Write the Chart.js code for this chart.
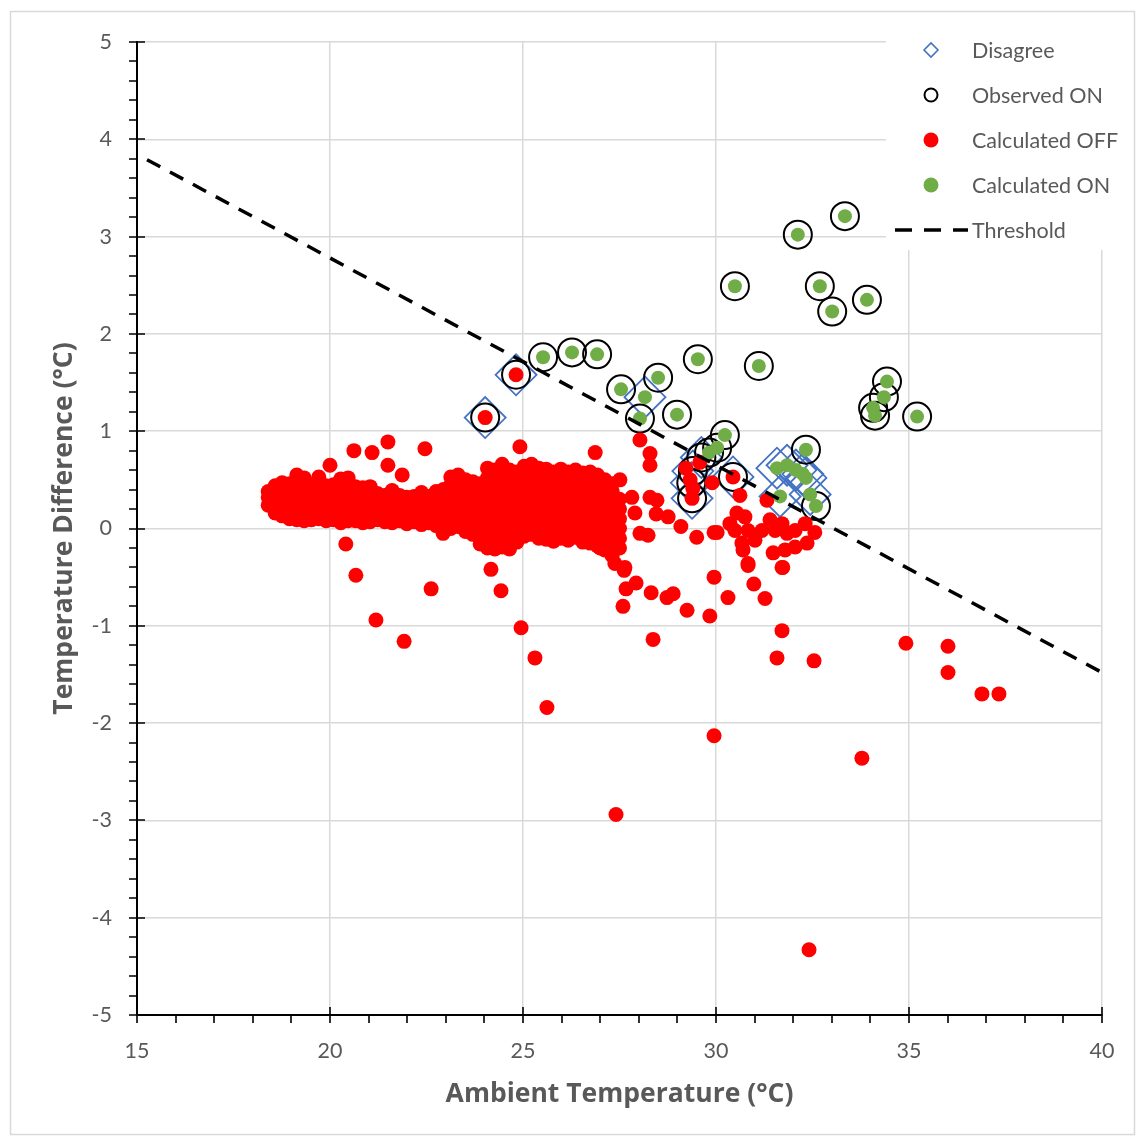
<!DOCTYPE html>
<html>
<head>
<meta charset="utf-8">
<script src="https://cdn.jsdelivr.net/npm/chart.js@4.4.1/dist/chart.umd.min.js"></script>
<style>
  html, body { margin: 0; padding: 0; background: #ffffff; }
  canvas { display: block; }
</style>
</head>
<body>
<canvas id="chart" width="1141" height="1137"></canvas>
<script>
// Axis ranges and tick labels
const xRange = [15, 40];
const yRange = [-5, 5];
const xTickLabels = ['15', '20', '25', '30', '35', '40'];
const yTickLabels = ['-5', '-4', '-3', '-2', '-1', '0', '1', '2', '3', '4', '5'];

const seriesNames = ['Disagree', 'Observed ON', 'Calculated OFF', 'Calculated ON', 'Threshold'];

// Calculated OFF: dense band of readings, one column per ambient temperature
const calcOffColumns = [
  [18.40, [0.24, 0.32, 0.38]],
  [18.58, [0.16, 0.26, 0.36, 0.44]],
  [18.76, [0.13, 0.22, 0.31, 0.40, 0.47]],
  [18.95, [0.10, 0.19, 0.28, 0.37, 0.46]],
  [19.14, [0.09, 0.18, 0.27, 0.36, 0.45, 0.55]],
  [19.33, [0.08, 0.17, 0.26, 0.35, 0.44, 0.52]],
  [19.52, [0.09, 0.18, 0.27, 0.36, 0.45]],
  [19.71, [0.10, 0.19, 0.28, 0.37, 0.46, 0.53]],
  [19.90, [0.08, 0.17, 0.26, 0.35, 0.44]],
  [20.09, [0.09, 0.18, 0.27, 0.36, 0.45]],
  [20.28, [0.06, 0.15, 0.24, 0.33, 0.42, 0.51]],
  [20.47, [0.08, 0.17, 0.26, 0.35, 0.44, 0.52]],
  [20.66, [0.08, 0.16, 0.25, 0.34, 0.43]],
  [20.85, [0.06, 0.15, 0.24, 0.33, 0.42]],
  [21.04, [0.07, 0.16, 0.25, 0.34, 0.43]],
  [21.23, [0.09, 0.18, 0.27, 0.36]],
  [21.42, [0.07, 0.16, 0.25, 0.34]],
  [21.61, [0.06, 0.15, 0.24, 0.33, 0.39]],
  [21.80, [0.08, 0.17, 0.26, 0.34]],
  [21.99, [0.05, 0.14, 0.23, 0.32]],
  [22.18, [0.07, 0.16, 0.25, 0.33]],
  [22.37, [0.04, 0.13, 0.22, 0.31, 0.37]],
  [22.56, [0.06, 0.15, 0.24, 0.33]],
  [22.75, [0.03, 0.12, 0.21, 0.30, 0.38]],
  [22.94, [0.05, 0.14, 0.23, 0.32, 0.40]],
  [23.13, [0.00, 0.09, 0.18, 0.27, 0.36, 0.45, 0.53]],
  [23.32, [0.02, 0.11, 0.20, 0.29, 0.38, 0.47, 0.55]],
  [23.51, [-0.03, 0.06, 0.15, 0.24, 0.33, 0.42, 0.50]],
  [23.70, [-0.06, 0.03, 0.12, 0.21, 0.30, 0.39, 0.48]],
  [23.89, [-0.16, -0.07, 0.02, 0.11, 0.20, 0.29, 0.38, 0.46]],
  [24.08, [-0.20, -0.11, -0.02, 0.07, 0.16, 0.25, 0.34, 0.43, 0.52, 0.62]],
  [24.27, [-0.21, -0.12, -0.03, 0.06, 0.15, 0.24, 0.33, 0.42, 0.51, 0.60]],
  [24.46, [-0.19, -0.10, -0.01, 0.08, 0.17, 0.26, 0.35, 0.44, 0.53, 0.66]],
  [24.65, [-0.21, -0.12, -0.03, 0.06, 0.15, 0.24, 0.33, 0.42, 0.51, 0.60]],
  [24.84, [-0.14, -0.05, 0.04, 0.13, 0.22, 0.31, 0.40, 0.49, 0.58]],
  [25.03, [-0.08, 0.01, 0.10, 0.19, 0.28, 0.37, 0.46, 0.55, 0.64]],
  [25.22, [-0.06, 0.03, 0.12, 0.21, 0.30, 0.39, 0.48, 0.57, 0.66]],
  [25.41, [-0.10, -0.01, 0.08, 0.17, 0.26, 0.35, 0.44, 0.53, 0.62]],
  [25.60, [-0.11, -0.02, 0.07, 0.16, 0.25, 0.34, 0.43, 0.52, 0.61]],
  [25.79, [-0.13, -0.04, 0.05, 0.14, 0.23, 0.32, 0.41, 0.50, 0.58]],
  [25.98, [-0.10, -0.01, 0.08, 0.17, 0.26, 0.35, 0.44, 0.53, 0.61]],
  [26.17, [-0.12, -0.03, 0.06, 0.15, 0.24, 0.33, 0.42, 0.51, 0.58]],
  [26.36, [-0.09, 0.00, 0.09, 0.18, 0.27, 0.36, 0.45, 0.54, 0.60]],
  [26.55, [-0.14, -0.05, 0.04, 0.13, 0.22, 0.31, 0.40, 0.49, 0.57]],
  [26.74, [-0.15, -0.06, 0.03, 0.12, 0.21, 0.30, 0.39, 0.48, 0.58]],
  [26.93, [-0.18, -0.09, 0.00, 0.09, 0.18, 0.27, 0.36, 0.45, 0.55]],
  [27.12, [-0.22, -0.13, -0.04, 0.05, 0.14, 0.23, 0.32, 0.41, 0.50]],
  [27.31, [-0.28, -0.17, -0.08, 0.01, 0.10, 0.19, 0.28, 0.38, 0.46]],
  [27.50, [-0.20, -0.10, 0.00, 0.10, 0.20, 0.30]]
];

// Calculated OFF: scattered readings outside the main band
const calcOffScatter = [
  [20.41, -0.16], [20.67, -0.48], [21.19, -0.94], [21.92, -1.16], [22.62, -0.62],
  [22.46, 0.82], [21.50, 0.89], [20.62, 0.80], [21.09, 0.78], [21.50, 0.65],
  [21.87, 0.55], [20.00, 0.65], [22.93, -0.05],
  [24.17, -0.42], [24.43, -0.64], [24.95, -1.02], [25.31, -1.33], [25.62, -1.84],
  [27.41, -2.94], [27.59, -0.80], [27.67, -0.62], [27.93, -0.56], [27.62, -0.43],
  [28.37, -1.14], [28.32, -0.66], [28.73, -0.71], [28.89, -0.67], [29.25, -0.84],
  [29.84, -0.90], [29.95, -2.13], [29.95, -0.50], [30.31, -0.71], [30.98, -0.57],
  [31.27, -0.72], [30.83, -0.38], [31.58, -1.33], [31.71, -1.05], [31.73, -0.40],
  [32.54, -1.36], [32.41, -4.33], [33.78, -2.36], [34.92, -1.18], [36.01, -1.21],
  [36.01, -1.48], [36.89, -1.70], [37.33, -1.70],
  [24.02, 1.14], [24.82, 1.58], [24.92, 0.84], [26.87, 0.78], [28.03, 0.91],
  [28.29, 0.77], [28.29, 0.65],
  [27.51, 0.50], [27.82, 0.32], [27.90, 0.16], [28.29, 0.32], [28.47, 0.29],
  [28.45, 0.15], [28.76, 0.12], [28.03, -0.05], [28.24, -0.07], [27.38, -0.36],
  [27.64, -0.40], [27.00, -0.20], [27.30, -0.25], [29.09, 0.02], [29.50, -0.09],
  [29.95, -0.04],
  [29.22, 0.62], [29.33, 0.50], [29.40, 0.41], [29.38, 0.31], [29.58, 0.68],
  [29.90, 0.47], [30.44, 0.53],
  [30.62, 0.34], [30.54, 0.16], [30.36, 0.05], [30.49, -0.02], [30.75, 0.12],
  [30.83, -0.02], [30.67, -0.15], [30.70, -0.22], [31.01, -0.12], [31.19, -0.02],
  [31.40, 0.09], [31.53, -0.02], [31.71, 0.05], [31.84, -0.05], [32.05, -0.02],
  [32.31, 0.05], [32.56, -0.04], [32.36, -0.15], [32.05, -0.19], [31.79, -0.22],
  [31.48, -0.25], [30.83, -0.36], [31.71, -0.40], [30.03, -0.04], [31.32, 0.29]
];

// Calculated ON
const calcOnPoints = [
  [33.34, 3.21], [32.12, 3.02], [30.49, 2.49], [32.69, 2.49], [33.01, 2.23], [33.91, 2.35],
  [25.52, 1.76], [26.27, 1.81], [26.92, 1.79], [29.53, 1.74], [31.11, 1.67],
  [27.54, 1.43], [28.50, 1.55], [28.16, 1.35], [28.03, 1.13], [28.99, 1.17],
  [34.43, 1.51], [34.35, 1.35], [34.07, 1.24], [34.12, 1.16], [35.21, 1.15],
  [32.33, 0.81], [30.23, 0.96], [30.03, 0.83], [29.82, 0.78],
  [31.58, 0.62], [31.84, 0.65], [32.07, 0.60], [32.25, 0.56], [32.33, 0.52],
  [31.66, 0.33], [32.44, 0.35], [32.59, 0.23]
];

// Observed ON
const observedOnPoints = [
  [33.34, 3.21], [32.12, 3.02], [30.49, 2.49], [32.69, 2.49], [33.01, 2.23], [33.91, 2.35],
  [25.52, 1.76], [26.27, 1.81], [26.92, 1.79], [29.53, 1.74], [31.11, 1.67],
  [27.54, 1.43], [28.50, 1.55], [28.03, 1.13], [28.99, 1.17],
  [34.43, 1.51], [34.35, 1.35], [34.07, 1.24], [34.12, 1.16], [35.21, 1.15],
  [32.33, 0.81], [30.23, 0.96], [30.03, 0.83], [29.82, 0.78], [32.59, 0.23],
  [24.02, 1.14], [24.82, 1.58], [29.62, 0.73], [29.40, 0.59], [29.36, 0.47],
  [29.38, 0.31], [30.44, 0.53]
];

// Disagree: calculated state differs from observed state
const disagreePoints = [
  [24.02, 1.14], [24.82, 1.58], [28.16, 1.35],
  [29.62, 0.73], [29.40, 0.59], [29.36, 0.47], [29.38, 0.31], [30.44, 0.53],
  [31.58, 0.62], [31.84, 0.65], [32.07, 0.60], [32.25, 0.56], [32.33, 0.52],
  [31.66, 0.33], [32.44, 0.35]
];

// Threshold line end points
const thresholdPoints = [[15.26, 3.79], [40.0, -1.48]];

const toXY = p => ({ x: p[0], y: p[1] });
const calcOffData = [];
calcOffColumns.forEach(([x, ys]) => ys.forEach(y => calcOffData.push({ x, y })));
calcOffScatter.forEach(p => calcOffData.push(toXY(p)));

const FONT = 'Lato, "Open Sans", sans-serif';
const TITLE_FONT = '"Open Sans", Lato, sans-serif';
const TEXT = '#595959';

// White frame with a thin grey border around the whole chart
const framePlugin = {
  id: 'frame',
  beforeDraw(chart) {
    const ctx = chart.ctx;
    ctx.save();
    ctx.fillStyle = '#ffffff';
    ctx.fillRect(0, 0, chart.width, chart.height);
    ctx.strokeStyle = '#d9d9d9';
    ctx.lineWidth = 1.5;
    ctx.strokeRect(10.5, 11.5, 1124, 1123);
    ctx.restore();
  }
};

// Major tick marks cross the axis; minor tick marks sit outside
const tickPlugin = {
  id: 'axisTicks',
  afterDraw(chart) {
    const { ctx, scales: { x, y }, chartArea: a } = chart;
    ctx.save();
    ctx.strokeStyle = '#000';
    ctx.lineWidth = 1.6;
    ctx.beginPath();
    for (let v = xRange[0]; v <= xRange[1]; v += 1) {
      const px = Math.round(x.getPixelForValue(v));
      const major = v % 5 === 0;
      ctx.moveTo(px, a.bottom - (major ? 8 : 0));
      ctx.lineTo(px, a.bottom + 8);
    }
    for (let i = 0; i <= (yRange[1] - yRange[0]) * 5; i++) {
      const v = yRange[0] + i * 0.2;
      const py = Math.round(y.getPixelForValue(v));
      const major = i % 5 === 0;
      ctx.moveTo(a.left - 8, py);
      ctx.lineTo(a.left + (major ? 8 : 0), py);
    }
    ctx.stroke();
    ctx.restore();
  }
};

// Legend box in the upper right corner
const legendPlugin = {
  id: 'cornerLegend',
  afterDraw(chart) {
    const ctx = chart.ctx;
    ctx.save();
    ctx.fillStyle = '#ffffff';
    ctx.fillRect(886, 28, 240, 222);
    const mx = 931, tx = 972;
    const rows = [50, 95, 140, 185, 230];
    // Disagree
    ctx.strokeStyle = '#4472C4'; ctx.lineWidth = 1.6;
    ctx.beginPath();
    ctx.moveTo(mx - 7, rows[0]); ctx.lineTo(mx, rows[0] - 7);
    ctx.lineTo(mx + 7, rows[0]); ctx.lineTo(mx, rows[0] + 7); ctx.closePath();
    ctx.stroke();
    // Observed ON
    ctx.strokeStyle = '#000'; ctx.lineWidth = 2;
    ctx.beginPath(); ctx.arc(mx, rows[1], 6.5, 0, Math.PI * 2); ctx.stroke();
    // Calculated OFF
    ctx.fillStyle = '#FF0000';
    ctx.beginPath(); ctx.arc(mx, rows[2], 7.5, 0, Math.PI * 2); ctx.fill();
    // Calculated ON
    ctx.fillStyle = '#70AD47';
    ctx.beginPath(); ctx.arc(mx, rows[3], 7.5, 0, Math.PI * 2); ctx.fill();
    // Threshold
    ctx.strokeStyle = '#000'; ctx.lineWidth = 3.5;
    ctx.setLineDash([17, 12]);
    ctx.beginPath(); ctx.moveTo(895, rows[4]); ctx.lineTo(968, rows[4]); ctx.stroke();
    ctx.setLineDash([]);
    ctx.fillStyle = TEXT;
    ctx.font = '21.5px ' + FONT;
    ctx.textBaseline = 'middle';
    ctx.textAlign = 'left';
    seriesNames.forEach((n, i) => ctx.fillText(n, tx, rows[i] + 1));
    ctx.restore();
  }
};

new Chart(document.getElementById('chart'), {
  type: 'scatter',
  data: {
    datasets: [
      {
        label: seriesNames[0], data: disagreePoints.map(toXY), order: 5,
        pointStyle: 'rectRot', pointRadius: 20.5, borderColor: '#4472C4',
        borderWidth: 1.8, backgroundColor: 'rgba(0,0,0,0)'
      },
      {
        label: seriesNames[1], data: observedOnPoints.map(toXY), order: 4,
        pointStyle: 'circle', pointRadius: 14, borderColor: '#000000',
        borderWidth: 2, backgroundColor: 'rgba(0,0,0,0)'
      },
      {
        label: seriesNames[2], data: calcOffData, order: 3,
        pointStyle: 'circle', pointRadius: 7.5, borderWidth: 0,
        backgroundColor: '#FF0000', borderColor: '#FF0000'
      },
      {
        label: seriesNames[3], data: calcOnPoints.map(toXY), order: 2,
        pointStyle: 'circle', pointRadius: 7, borderWidth: 0,
        backgroundColor: '#70AD47', borderColor: '#70AD47'
      },
      {
        label: seriesNames[4], data: thresholdPoints.map(toXY), order: 1,
        showLine: true, pointRadius: 0, borderColor: '#000000',
        borderWidth: 3.5, borderDash: [15, 11], fill: false
      }
    ]
  },
  options: {
    responsive: false,
    animation: false,
    devicePixelRatio: 1,
    events: [],
    layout: { padding: { top: 42, right: 39, left: 0, bottom: 0 } },
    plugins: { legend: { display: false }, tooltip: { enabled: false } },
    scales: {
      x: {
        type: 'linear', min: xRange[0], max: xRange[1],
        afterFit: s => { s.height = 122; },
        afterBuildTicks: s => { s.ticks = xTickLabels.map(t => ({ value: Number(t) })); },
        grid: { color: '#d9d9d9', lineWidth: 1.5, drawTicks: false },
        border: { color: '#000000', width: 2 },
        ticks: { color: TEXT, font: { family: FONT, size: 21.5 }, padding: 23, maxRotation: 0,
                 callback: v => String(v) },
        title: { display: true, text: 'Ambient Temperature (°C)', color: TEXT,
                 font: { family: TITLE_FONT, size: 26.5, weight: 'bold' }, padding: { top: 0, bottom: 27 } }
      },
      y: {
        type: 'linear', min: yRange[0], max: yRange[1],
        afterFit: s => { s.width = 137; },
        afterBuildTicks: s => { s.ticks = yTickLabels.map(t => ({ value: Number(t) })); },
        grid: { color: '#d9d9d9', lineWidth: 1.5, drawTicks: false },
        border: { color: '#000000', width: 2 },
        ticks: { color: TEXT, font: { family: FONT, size: 21.5 }, padding: 25,
                 callback: v => String(v) },
        title: { display: true, text: 'Temperature Difference (°C)', color: TEXT,
                 font: { family: TITLE_FONT, size: 26.5, weight: 'bold' }, padding: { top: 49, bottom: 0 } }
      }
    }
  },
  plugins: [framePlugin, tickPlugin, legendPlugin]
});
</script>
</body>
</html>
